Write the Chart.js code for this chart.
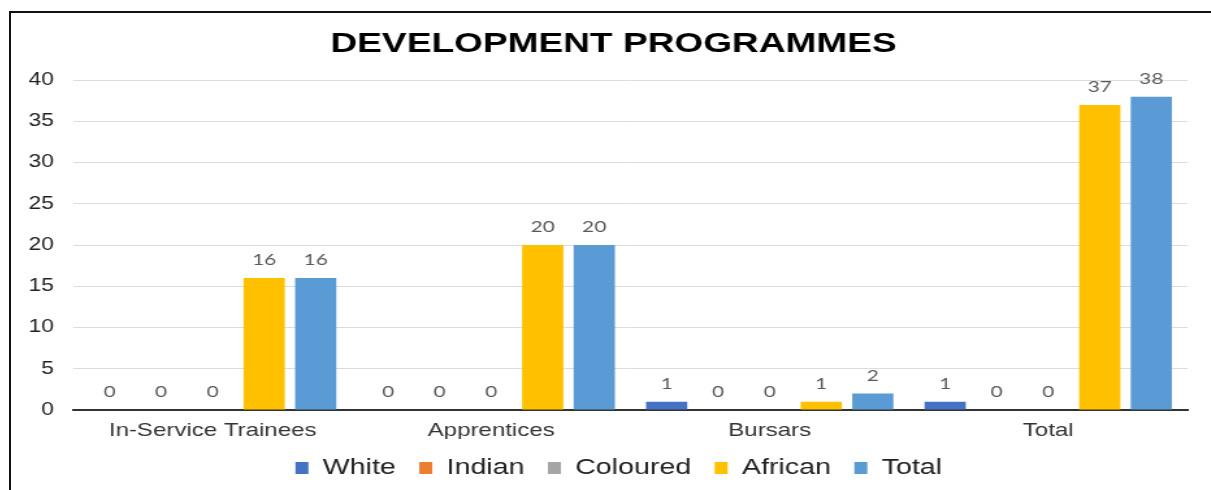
<!DOCTYPE html>
<html>
<head>
<meta charset="utf-8">
<title>Development Programmes</title>
<script src="https://cdn.jsdelivr.net/npm/chart.js@4.4.1/dist/chart.umd.min.js"></script>
<style>
  html, body { margin: 0; padding: 0; background: #fff; }
  body { width: 1211px; height: 490px; overflow: hidden; position: relative; }
  .frame {
    position: absolute; left: 9px; top: 11px;
    border-left: 2px solid #111; border-top: 2px solid #111;
    width: 1200px; height: 477px; overflow: hidden;
  }
  /* the chart is laid out narrow and widened, giving the broad lettering */
  .frame canvas { display: block; transform: scaleX(1.3); transform-origin: 0 0; }
</style>
</head>
<body>
<div class="frame"><canvas id="chart-dev-programmes" width="923" height="477"></canvas></div>
<script>
// ── Development programmes by race group ─────────────────────────
const categories = ['In-Service Trainees', 'Apprentices', 'Bursars', 'Total'];
const white    = [0, 0, 1, 1];
const indian   = [0, 0, 0, 0];
const coloured = [0, 0, 0, 0];
const african  = [16, 20, 1, 37];
const total    = [16, 20, 2, 38];
const yTicks   = [0, 5, 10, 15, 20, 25, 30, 35, 40];

const series = [
  { label: 'White',    data: white,    color: '#4472C4' },
  { label: 'Indian',   data: indian,   color: '#ED7D31' },
  { label: 'Coloured', data: coloured, color: '#A5A5A5' },
  { label: 'African',  data: african,  color: '#FFC000' },
  { label: 'Total',    data: total,    color: '#5B9BD5' },
];

const FONT = '"Liberation Sans", Arial, sans-serif';

// value labels above each bar (zeros included)
const barValues = {
  id: 'barValues',
  afterDatasetsDraw(chart) {
    const { ctx } = chart;
    ctx.save();
    ctx.font = '16px Lato, "Open Sans", sans-serif';
    ctx.fillStyle = '#595959';
    ctx.textAlign = 'center';
    ctx.textBaseline = 'middle';
    chart.data.datasets.forEach((ds, i) => {
      const meta = chart.getDatasetMeta(i);
      if (meta.hidden) return;
      meta.data.forEach((bar, j) => {
        ctx.fillText(String(ds.data[j]), bar.x, bar.y - 18);
      });
    });
    ctx.restore();
  },
};

// title and legend sit centred over the plot rather than the whole canvas
const centreBlocks = {
  id: 'centreBlocks',
  afterLayout(chart) {
    const shift = (box, dx) => { if (box) { box.left += dx; box.right += dx; } };
    shift(chart.titleBlock, 11);
    shift(chart.legend, 15);
  },
};

new Chart(document.getElementById('chart-dev-programmes'), {
  type: 'bar',
  data: {
    labels: categories,
    datasets: series.map(s => ({
      label: s.label,
      data: s.data,
      backgroundColor: s.color,
      borderWidth: 0,
      categoryPercentage: 0.925,
      barPercentage: 0.8,
    })),
  },
  options: {
    responsive: false,
    animation: false,
    layout: { padding: { left: 0, right: 18, top: 0, bottom: 1 } },
    plugins: {
      title: {
        display: true,
        text: 'DEVELOPMENT PROGRAMMES',
        color: '#000',
        font: { family: FONT, size: 28.5, weight: 'bold' },
        padding: { top: 14, bottom: 19 },
      },
      legend: {
        position: 'bottom',
        labels: {
          color: '#222',
          boxWidth: 10,
          boxHeight: 12,
          padding: 18,
          font: { family: FONT, size: 22 },
        },
      },
      tooltip: { enabled: false },
    },
    scales: {
      x: {
        afterFit: scale => { scale.height = 29; },
        grid: { display: false, drawTicks: false },
        border: { display: true, color: '#333', width: 2 },
        ticks: {
          color: '#333',
          padding: 10,
          font: { family: FONT, size: 18.5 },
        },
      },
      y: {
        min: 0,
        max: 40,
        afterBuildTicks: scale => { scale.ticks = yTicks.map(v => ({ value: v })); },
        afterFit: scale => { scale.width = 48; },
        grid: { color: '#dcdcdc', lineWidth: 1, drawTicks: false },
        border: { display: false },
        ticks: {
          color: '#222',
          padding: 15,
          font: { family: FONT, size: 17.5 },
        },
      },
    },
  },
  plugins: [barValues, centreBlocks],
});
</script>
</body>
</html>
